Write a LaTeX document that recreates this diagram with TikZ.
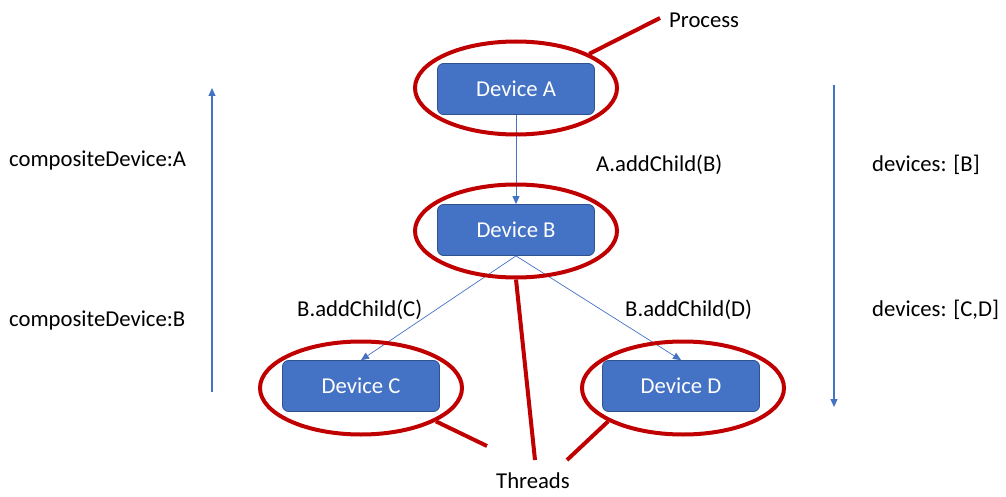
\documentclass[tikz,border=0pt]{standalone}
\usepackage{fontspec}
\setmainfont{Carlito}
\usetikzlibrary{shapes.geometric,arrows.meta}
\definecolor{boxblue}{HTML}{4472C4}
\definecolor{boxedge}{HTML}{2F528F}
\definecolor{thred}{HTML}{C00000}
\tikzset{
  dev/.style={draw=boxedge, line width=0.8pt, fill=boxblue, rounded corners=6pt,
    minimum width=157pt, minimum height=51pt, inner sep=0pt, text=white,
    font=\fontsize{22.7}{26}\selectfont},
  ring/.style={ellipse, draw=thred, line width=4pt, minimum width=202pt, minimum height=93pt, inner sep=0pt},
  redline/.style={draw=thred, line width=4pt},
  link/.style={draw=boxblue, line width=0.7pt, -{Triangle[length=8pt,width=7pt]}},
  side/.style={draw=boxblue, line width=1.2pt, -{Triangle[length=8pt,width=7pt]}},
  lbl/.style={font=\fontsize{22.7}{26}\selectfont, inner sep=0pt, text=black},
}
\begin{document}
\begin{tikzpicture}[x=1pt,y=-1pt]
\useasboundingbox (0,0) rectangle (1006,497);
% devices
\node[dev] (A) at (516,89) {Device A};
\node[dev] (B) at (516,230) {Device B};
\node[dev] (C) at (361,386) {Device C};
\node[dev] (D) at (681,386) {Device D};
% connectors
\draw[link] (A.south) -- (B.north);
\draw[link] (B.south) -- (C.north);
\draw[link] (B.south) -- (D.north);
% rings
\node[ring] (eA) at (516,88) {};
\node[ring] (eB) at (516,231) {};
\node[ring] (eC) at (361,388) {};
\node[ring] (eD) at (683,388) {};
% labels
\node[lbl, anchor=west] (proc) at (669,20) {Process};
\coordinate (pend) at (660,18);
\draw[redline] (eA.25) -- (pend);
\node[lbl] (thr) at (533,481) {Threads};
\coordinate (t1) at (487,446);
\coordinate (t2) at (535,460);
\coordinate (t3) at (567,460);
\draw[redline] (eC.-24) -- (t1);
\draw[redline] (eB.south) -- (t2);
\draw[redline] (eD.-156) -- (t3);
% side arrows
\coordinate (l0) at (212,392);
\coordinate (l1) at (212,88);
\draw[side] (l0) -- (l1);
\coordinate (r0) at (834,85);
\coordinate (r1) at (834,407);
\draw[side] (r0) -- (r1);
% texts
\node[lbl, anchor=west] (cdA) at (9,161) {compositeDevice:A};
\node[lbl, anchor=west] (cdB) at (9,321) {compositeDevice:B};
\node[lbl, anchor=west] (acB) at (596,165) {A.addChild(B)};
\node[lbl, anchor=west] (dB) at (872,165) {devices: [B]};
\node[lbl, anchor=west] (bcC) at (297,310) {B.addChild(C)};
\node[lbl, anchor=west] (bcD) at (625,310) {B.addChild(D)};
\node[lbl, anchor=west] (dCD) at (872,310) {devices: [C,D]};
\end{tikzpicture}
\end{document}
